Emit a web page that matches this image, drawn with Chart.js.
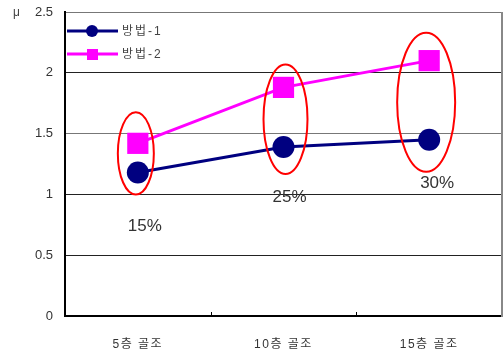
<!DOCTYPE html>
<html>
<head>
<meta charset="utf-8">
<script src="https://cdn.jsdelivr.net/npm/chart.js@4/dist/chart.umd.min.js"></script>
<style>
  html, body { margin: 0; padding: 0; background: #fff; }
  #wrap { width: 504px; height: 353px; }
</style>
</head>
<body>
<div id="wrap"><canvas id="grafico" width="504" height="353"></canvas></div>
<script>
// Datos del grafico
const categorias = ['5층 골조', '10층 골조', '15층 골조'];
const metodo1 = [1.18, 1.39, 1.45];
const metodo2 = [1.42, 1.88, 2.10];
const porcentajes = ['15%', '25%', '30%'];
const ticksY = [0, 0.5, 1, 1.5, 2, 2.5];

const fuente = '"Liberation Sans", "Noto Sans CJK KR", sans-serif';

// Elipses rojas alrededor de cada par de puntos
const elipses = [
    { dx: -2, rx: 18, arriba: 31, abajo: 22, etiqueta: 32, ex: 7 },
    { dx: 2, rx: 22, arriba: 23, abajo: 27, etiqueta: 23, ex: 6 },
    { dx: -3, rx: 29, arriba: 28, abajo: 32, etiqueta: 12, ex: 8 }
];

const decoraciones = {
    id: 'decoraciones',
    afterLayout(chart) {
        // etiquetas del eje x un poco espaciadas, como en el original
        const sx = chart.scales.x;
        if (sx._espaciado) return;
        const original = sx.drawLabels;
        sx.drawLabels = function(area) {
            const prev = this.ctx.letterSpacing;
            this.ctx.letterSpacing = '1.5px';
            original.call(this, area);
            this.ctx.letterSpacing = prev;
        };
        sx._espaciado = true;
    },
    afterDatasetsDraw(chart) {
        const ctx = chart.ctx;
        const x = chart.scales.x, y = chart.scales.y;
        const area = chart.chartArea;
        ctx.save();

        // borde derecho
        ctx.strokeStyle = '#888';
        ctx.lineWidth = 2;
        ctx.beginPath();
        ctx.moveTo(area.right, area.top);
        ctx.lineTo(area.right, area.bottom + 1);
        ctx.stroke();

        // marcas del eje x
        ctx.strokeStyle = '#000';
        ctx.lineWidth = 1;
        for (let i = 1; i < categorias.length; i++) {
            const px = Math.round((x.getPixelForValue(i - 1) + x.getPixelForValue(i)) / 2) + 0.5;
            ctx.beginPath();
            ctx.moveTo(px, area.bottom);
            ctx.lineTo(px, area.bottom - 4);
            ctx.stroke();
        }

        // elipses y porcentajes
        elipses.forEach((e, i) => {
            const cx = x.getPixelForValue(i) + e.dx;
            const top = y.getPixelForValue(metodo2[i]) - e.arriba;
            const bottom = y.getPixelForValue(metodo1[i]) + e.abajo;
            ctx.strokeStyle = '#ff0000';
            ctx.lineWidth = 2;
            ctx.beginPath();
            ctx.ellipse(cx, (top + bottom) / 2, e.rx, (bottom - top) / 2, 0, 0, Math.PI * 2);
            ctx.stroke();

            ctx.fillStyle = '#333';
            ctx.font = '17px ' + fuente;
            ctx.textAlign = 'center';
            ctx.textBaseline = 'middle';
            ctx.fillText(porcentajes[i], x.getPixelForValue(i) + e.ex, bottom + e.etiqueta);
        });

        // leyenda
        chart.data.datasets.forEach((ds, i) => {
            const ly = 31 + i * 23;
            ctx.strokeStyle = ds.borderColor;
            ctx.lineWidth = 3;
            ctx.beginPath();
            ctx.moveTo(area.left + 2, ly);
            ctx.lineTo(area.left + 53, ly);
            ctx.stroke();
            ctx.fillStyle = ds.borderColor;
            if (ds.pointStyle === 'rect') {
                ctx.fillRect(area.left + 22, ly - 5, 11, 11);
            } else {
                ctx.beginPath();
                ctx.arc(area.left + 27, ly, 6, 0, Math.PI * 2);
                ctx.fill();
            }
            ctx.fillStyle = '#444';
            ctx.font = '12px ' + fuente;
            ctx.letterSpacing = '2px';
            ctx.textAlign = 'left';
            ctx.textBaseline = 'middle';
            ctx.fillText(ds.label, area.left + 57, ly + 1);
            ctx.letterSpacing = '0px';
        });

        // unidad del eje y
        ctx.fillStyle = '#444';
        ctx.font = '12px ' + fuente;
        ctx.textAlign = 'left';
        ctx.textBaseline = 'middle';
        ctx.fillText('μ', 13, area.top + 1);
        ctx.restore();
    }
};

new Chart(document.getElementById('grafico').getContext('2d'), {
    type: 'line',
    data: {
        labels: categorias,
        datasets: [{
            label: '방법-1',
            data: metodo1,
            borderColor: '#000080',
            backgroundColor: '#000080',
            borderWidth: 3,
            pointStyle: 'circle',
            pointRadius: 11,
            pointHoverRadius: 11,
            pointBorderWidth: 0
        }, {
            label: '방법-2',
            data: metodo2,
            borderColor: '#ff00ff',
            backgroundColor: '#ff00ff',
            borderWidth: 3,
            pointStyle: 'rect',
            pointRadius: 15,
            pointHoverRadius: 15,
            pointBorderWidth: 0
        }]
    },
    options: {
        responsive: false,
        animation: false,
        events: [],
        layout: { autoPadding: false, padding: { top: 12, right: 2, left: 0, bottom: 0 } },
        plugins: {
            legend: { display: false },
            tooltip: { enabled: false }
        },
        scales: {
            x: {
                offset: true,
                grid: { display: false, drawTicks: false },
                border: { display: true, color: '#000', width: 2 },
                ticks: { color: '#333', font: { size: 12, family: fuente }, padding: 21 },
                afterFit(scale) {
                    scale.height = 37;
                    scale.paddingLeft = 0;
                    scale.paddingRight = 0;
                }
            },
            y: {
                min: 0,
                max: 2.5,
                afterBuildTicks(scale) { scale.ticks = ticksY.map(v => ({ value: v })); },
                grid: {
                    drawTicks: false,
                    color: ctx => (ctx.tick && (ctx.tick.value === 1.5 || ctx.tick.value === 2.5)) ? '#777' : '#222',
                    lineWidth: 1
                },
                border: { display: true, color: '#000', width: 2 },
                ticks: {
                    color: '#333',
                    font: { size: 13, family: fuente },
                    padding: 12,
                    callback: v => String(v)
                },
                afterFit(scale) {
                    scale.width = 65;
                    scale.paddingTop = 0;
                    scale.paddingBottom = 0;
                }
            }
        }
    },
    plugins: [decoraciones]
});
</script>
</body>
</html>
